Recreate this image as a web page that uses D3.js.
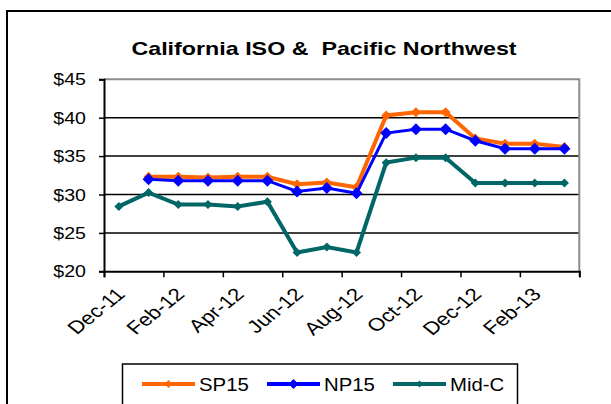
<!DOCTYPE html>
<html>
<head>
<meta charset="utf-8">
<script src="https://cdn.jsdelivr.net/npm/d3@7"></script>
<style>
  html, body { margin: 0; padding: 0; background: #fff; }
  svg { display: block; }
  text { font-family: Arial, "Liberation Sans", sans-serif; fill: #000; white-space: pre; }
</style>
</head>
<body>
<svg id="chart" width="611" height="404"></svg>
<script>
// ---- data ----
const months = ["Dec-11","Jan-12","Feb-12","Mar-12","Apr-12","May-12","Jun-12","Jul-12",
                "Aug-12","Sep-12","Oct-12","Nov-12","Dec-12","Jan-13","Feb-13","Mar-13"];
const sp15 = [null, 32.3, 32.3, 32.2, 32.3, 32.3, 31.35, 31.55, 30.95, 40.3, 40.7, 40.7, 37.3, 36.6, 36.6, 36.2];
const np15 = [null, 32.0, 31.8, 31.8, 31.8, 31.8, 30.4, 30.85, 30.15, 38.0, 38.5, 38.5, 37.0, 35.95, 35.95, 35.95];
const midc = [28.45, 30.25, 28.7, 28.7, 28.45, 29.05, 22.45, 23.15, 22.45, 34.15, 34.8, 34.8, 31.5, 31.5, 31.5, 31.5];
const yTicks = [20, 25, 30, 35, 40, 45];
const xTickLabels = ["Dec-11","Feb-12","Apr-12","Jun-12","Aug-12","Oct-12","Dec-12","Feb-13"];
const title = "California ISO &  Pacific Northwest";
const seriesNames = ["SP15", "NP15", "Mid-C"];

// ---- layout ----
const svg = d3.select("#chart");
const L = 104, R = 579.3, T = 79.3, B = 271.3;
const SX = 1.24; // horizontal text stretch seen in reference

const x = d3.scaleBand().domain(months).range([L, R]).paddingInner(0).paddingOuter(0);
const cx = m => x(m) + x.bandwidth() / 2;
const y = d3.scaleLinear().domain([20, 45]).range([B, T]);
const xIdx = d3.scaleLinear().domain([0, months.length]).range([L, R]);

// outer frame
svg.append("rect").attr("x", 7).attr("y", 11).attr("width", 700).attr("height", 500)
  .attr("fill", "none").attr("stroke", "#000").attr("stroke-width", 2);

// title
svg.append("text")
  .attr("transform", `translate(324,55) scale(1.33,1)`)
  .attr("text-anchor", "middle")
  .attr("xml:space", "preserve")
  .style("font-weight", "bold").style("font-size", "17.5px")
  .text(title);

// gridlines
svg.append("g").selectAll("line").data(yTicks.filter(d => d > 20 && d < 45)).join("line")
  .attr("x1", L).attr("x2", R).attr("y1", d => y(d)).attr("y2", d => y(d))
  .attr("stroke", "#000").attr("stroke-width", 1.5);

// plot border top/right (grey)
svg.append("path")
  .attr("d", `M${L},${y(45)}H${R}V${B}`)
  .attr("fill", "none").attr("stroke", "#8c8c8c").attr("stroke-width", 2);

// y axis
const yAxis = svg.append("g").attr("transform", `translate(${L},0)`)
  .call(d3.axisLeft(y).tickValues(yTicks).tickSize(5).tickPadding(0).tickFormat(d => "$" + d));
yAxis.select(".domain").attr("stroke", "#000").attr("stroke-width", 2);
yAxis.selectAll(".tick line").attr("stroke", "#000").attr("stroke-width", 1.5);
yAxis.selectAll(".tick text")
  .attr("x", null).attr("dy", null)
  .attr("transform", `translate(-18,5.6) scale(${SX},1)`)
  .attr("text-anchor", "end")
  .style("font-size", "15.8px").style("font-family", "Arial, 'Liberation Sans', sans-serif");

// x axis (ticks every 2 categories at band boundaries)
const xAxis = svg.append("g").attr("transform", `translate(0,${B})`)
  .call(d3.axisBottom(xIdx).tickValues(d3.range(0, months.length + 1, 2)).tickSize(6).tickFormat(""));
xAxis.select(".domain").attr("stroke", "#000").attr("stroke-width", 2);
xAxis.selectAll(".tick line").attr("stroke", "#000").attr("stroke-width", 1.5);

// x labels
svg.append("g").selectAll("text").data(xTickLabels).join("text")
  .attr("transform", d => `translate(${cx(d) + 7.5},${B + 24}) scale(${SX},1) rotate(-45)`)
  .attr("text-anchor", "end")
  .style("font-size", "18px")
  .text(d => d);

// series
const series = [
  { name: seriesNames[0], values: sp15, color: "#FF6600", width: 4, ms: 5 },
  { name: seriesNames[1], values: np15, color: "#0000FF", width: 3, ms: 6 },
  { name: seriesNames[2], values: midc, color: "#006666", width: 4, ms: 4.5 }
];
const diamond = (px, py, s) => `M${px},${py - s}L${px + s},${py}L${px},${py + s}L${px - s},${py}Z`;

series.forEach(s => {
  const pts = months.map((m, i) => ({ m, v: s.values[i] })).filter(p => p.v != null);
  const line = d3.line().x(p => cx(p.m)).y(p => y(p.v));
  svg.append("path").datum(pts).attr("d", line)
    .attr("fill", "none").attr("stroke", s.color).attr("stroke-width", s.width)
    .attr("stroke-linejoin", "miter");
  svg.append("g").selectAll("path").data(pts).join("path")
    .attr("d", p => diamond(cx(p.m), y(p.v), s.ms))
    .attr("fill", s.color);
});

// legend
const lg = svg.append("g");
lg.append("rect").attr("x", 122.5).attr("y", 364).attr("width", 395).attr("height", 60)
  .attr("fill", "#fff").attr("stroke", "#000").attr("stroke-width", 1.5);
const legendX = [142, 267, 393];
series.forEach((s, i) => {
  const x0 = legendX[i], ly = 384;
  lg.append("line").attr("x1", x0).attr("x2", x0 + 53).attr("y1", ly).attr("y2", ly)
    .attr("stroke", s.color).attr("stroke-width", 4);
  lg.append("path").attr("d", diamond(x0 + 26.5, ly, s.ms - 1)).attr("fill", s.color);
  lg.append("text").attr("transform", `translate(${x0 + 57},${ly + 7}) scale(1.1,1)`)
    .style("font-size", "18.5px").text(s.name);
});
</script>
</body>
</html>
